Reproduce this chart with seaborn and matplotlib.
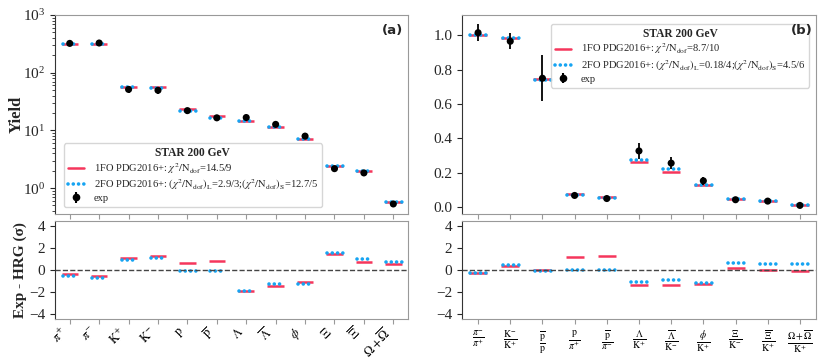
import numpy as np
import pandas as pd
import seaborn as sns
import matplotlib
matplotlib.use("Agg")
from matplotlib import pyplot as plt
from matplotlib.lines import Line2D
from matplotlib.transforms import ScaledTranslation

# ---- data ----
yield_labels = [r"$\pi^{+}$", r"$\pi^{-}$", r"$\mathrm{K}^{+}$", r"$\mathrm{K}^{-}$",
                r"$\mathrm{p}$", r"$\overline{\mathrm{p}}$", r"$\Lambda$", r"$\overline{\Lambda}$",
                r"$\phi$", r"$\Xi$", r"$\overline{\Xi}$", r"$\Omega+\overline{\Omega}$"]
yield_exp = [322, 327, 51.3, 49.5, 22.0, 16.5, 16.7, 12.7, 7.95, 2.17, 1.83, 0.53]
yield_err = [25, 25, 6.5, 6.2, 2.5, 2.0, 1.1, 0.9, 0.74, 0.2, 0.16, 0.05]
yield_1fo = [310, 310, 57, 56, 23.5, 18.0, 14.5, 11.5, 7.0, 2.45, 2.0, 0.57]
yield_2fo = [310, 310, 56, 55, 22.0, 16.5, 14.5, 11.6, 7.1, 2.45, 2.0, 0.58]
yield_res_1fo = [-0.35, -0.55, 1.1, 1.3, 0.6, 0.8, -1.95, -1.45, -1.1, 1.45, 0.75, 0.5]
yield_res_2fo = [-0.55, -0.75, 0.85, 1.05, -0.1, -0.1, -1.95, -1.25, -1.25, 1.55, 0.95, 0.75]

ratio_labels = [r"$\frac{\pi^{-}}{\pi^{+}}$", r"$\frac{\mathrm{K}^{-}}{\mathrm{K}^{+}}$",
                r"$\frac{\overline{\mathrm{p}}}{\mathrm{p}}$", r"$\frac{\mathrm{p}}{\pi^{+}}$",
                r"$\frac{\overline{\mathrm{p}}}{\pi^{-}}$", r"$\frac{\Lambda}{\mathrm{K}^{+}}$",
                r"$\frac{\overline{\Lambda}}{\mathrm{K}^{-}}$", r"$\frac{\phi}{\mathrm{K}^{+}}$",
                r"$\frac{\Xi}{\mathrm{K}^{-}}$", r"$\frac{\overline{\Xi}}{\mathrm{K}^{+}}$",
                r"$\frac{\Omega+\overline{\Omega}}{\mathrm{K}^{+}}$"]
ratio_exp = [1.015, 0.965, 0.75, 0.068, 0.050, 0.327, 0.256, 0.153, 0.043, 0.035, 0.010]
ratio_err = [0.05, 0.047, 0.133, 0.006, 0.005, 0.045, 0.036, 0.025, 0.006, 0.005, 0.002]
ratio_1fo = [1.0, 0.985, 0.748, 0.078, 0.060, 0.260, 0.203, 0.128, 0.048, 0.037, 0.011]
ratio_2fo = [1.0, 0.985, 0.738, 0.070, 0.053, 0.275, 0.221, 0.126, 0.048, 0.038, 0.011]
ratio_res_1fo = [-0.3, 0.35, -0.05, 1.15, 1.25, -1.4, -1.4, -1.25, 0.2, -0.05, -0.1]
ratio_res_2fo = [-0.3, 0.4, -0.1, 0.0, 0.0, -1.1, -0.95, -1.2, 0.6, 0.5, 0.55]

leg_1fo_a = r"1FO PDG2016+: $\chi^2/\mathrm{N_{dof}}$=14.5/9"
leg_2fo_a = r"2FO PDG2016+: $(\chi^2/\mathrm{N_{dof}})_\mathrm{L}$=2.9/3;$(\chi^2/\mathrm{N_{dof}})_\mathrm{S}$=12.7/5"
leg_1fo_b = r"1FO PDG2016+: $\chi^2/\mathrm{N_{dof}}$=8.7/10"
leg_2fo_b = r"2FO PDG2016+: $(\chi^2/\mathrm{N_{dof}})_\mathrm{L}$=0.18/4;$(\chi^2/\mathrm{N_{dof}})_\mathrm{S}$=4.5/6"

RED = "#f5365c"
BLUE = "#16a4f2"
HW = 0.28
DOTS = (0, (0.01, 1.45))

sns.set_style("ticks")
plt.rcParams["font.family"] = ["Liberation Serif", "DejaVu Serif"]
plt.rcParams["mathtext.fontset"] = "stix"

fig = plt.figure(figsize=(8.3, 3.59), dpi=100)
ax_a = fig.add_axes([0.0663, 0.4039, 0.4253, 0.5543])
ax_ar = fig.add_axes([0.0663, 0.1114, 0.4253, 0.2738])
ax_b = fig.add_axes([0.5566, 0.4039, 0.4265, 0.5543])
ax_br = fig.add_axes([0.5566, 0.1114, 0.4265, 0.2738])


def model_segments(ax, vals1, vals2):
    x = np.arange(len(vals1))
    ax.hlines(vals1, x - HW, x + HW, color=RED, lw=1.8)
    lc = ax.hlines(vals2, x - HW + 0.04, x + HW, color=BLUE, lw=2.6, linestyles=[DOTS])
    lc.set_capstyle("round")


def exp_points(ax, vals, errs):
    df = pd.DataFrame({"x": np.arange(len(vals)), "y": vals})
    ax.errorbar(df["x"], df["y"], yerr=errs, fmt="none", ecolor="black", elinewidth=1.3, zorder=4)
    sns.scatterplot(data=df, x="x", y="y", ax=ax, color="black", s=26, edgecolor="none", zorder=5)


def style_axes(ax):
    for side in ["top", "right", "bottom"]:
        ax.spines[side].set_color("#999999")
    ax.spines["left"].set_color("#333333")
    ax.tick_params(axis="x", colors="#999999", labelcolor="black", length=3.5)
    ax.tick_params(axis="y", length=3.5, labelsize=11)
    ax.set_xlabel("")
    ax.set_ylabel("")


def make_legend(ax, labels, **kw):
    h1 = Line2D([], [], color=RED, lw=1.8)
    h2 = Line2D([], [], color=BLUE, lw=2.6, ls=DOTS, dash_capstyle="round")
    h3 = ax.errorbar([], [], yerr=[], fmt="o", color="black", ms=4.5)
    leg = ax.legend([h1, h2, h3], labels, fontsize=7.6, title="STAR 200 GeV",
                    title_fontproperties={"weight": "bold", "size": 8.3},
                    handlelength=1.6, handletextpad=0.9, frameon=True, borderpad=0.35,
                    labelspacing=0.15, **kw)
    leg.get_frame().set_edgecolor("#cccccc")
    leg.set_zorder(6)
    return leg


# ---- panel (a) ----
model_segments(ax_a, yield_1fo, yield_2fo)
exp_points(ax_a, yield_exp, yield_err)
ax_a.set_yscale("log")
ax_a.set_ylim(0.355, 1000)
ax_a.set_xlim(-0.5, len(yield_exp) - 0.5)
ax_a.set_xticks(np.arange(len(yield_exp)))
ax_a.set_xticklabels([])
style_axes(ax_a)
ax_a.set_ylabel("Yield", fontsize=12, fontweight="bold")
ax_a.yaxis.set_label_coords(-0.085, 0.5)
ax_a.text(0.985, 0.955, "(a)", transform=ax_a.transAxes, ha="right", va="top",
          fontsize=9.5, fontweight="bold", family="DejaVu Sans", zorder=10)
make_legend(ax_a, [leg_1fo_a, leg_2fo_a, "exp"], loc="lower left", bbox_to_anchor=(0.01, 0.01))

model_segments(ax_ar, yield_res_1fo, yield_res_2fo)
ax_ar.axhline(0, color="#444444", ls="--", lw=1)
ax_ar.set_ylim(-4.45, 4.45)
ax_ar.set_yticks([-4, -2, 0, 2, 4])
ax_ar.set_xlim(-0.5, len(yield_exp) - 0.5)
ax_ar.set_xticks(np.arange(len(yield_exp)))
ax_ar.set_xticklabels(yield_labels, rotation=45, ha="right", fontsize=9)
shift = ScaledTranslation(-6 / 100, 0, fig.dpi_scale_trans)
for lbl in ax_ar.get_xticklabels():
    lbl.set_transform(lbl.get_transform() + shift)
style_axes(ax_ar)
ax_ar.tick_params(axis="x", pad=1)
ax_ar.set_ylabel("Exp - HRG (σ)", fontsize=11, fontweight="bold")
ax_ar.yaxis.set_label_coords(-0.08, 0.5)

# ---- panel (b) ----
model_segments(ax_b, ratio_1fo, ratio_2fo)
exp_points(ax_b, ratio_exp, ratio_err)
ax_b.set_ylim(-0.04, 1.118)
ax_b.set_xlim(-0.5, len(ratio_exp) - 0.5)
ax_b.set_xticks(np.arange(len(ratio_exp)))
ax_b.set_xticklabels([])
ax_b.set_yticks([0.0, 0.2, 0.4, 0.6, 0.8, 1.0])
style_axes(ax_b)
ax_b.text(0.99, 0.955, "(b)", transform=ax_b.transAxes, ha="right", va="top",
          fontsize=9.5, fontweight="bold", family="DejaVu Sans", zorder=10)
make_legend(ax_b, [leg_1fo_b, leg_2fo_b, "exp"], loc="upper right", bbox_to_anchor=(0.995, 0.98))

model_segments(ax_br, ratio_res_1fo, ratio_res_2fo)
ax_br.axhline(0, color="#444444", ls="--", lw=1)
ax_br.set_ylim(-4.45, 4.45)
ax_br.set_yticks([-4, -2, 0, 2, 4])
ax_br.set_xlim(-0.5, len(ratio_exp) - 0.5)
ax_br.set_xticks(np.arange(len(ratio_exp)))
ax_br.set_xticklabels(ratio_labels, fontsize=10)
style_axes(ax_br)

fig.savefig("out.png", dpi=100)
